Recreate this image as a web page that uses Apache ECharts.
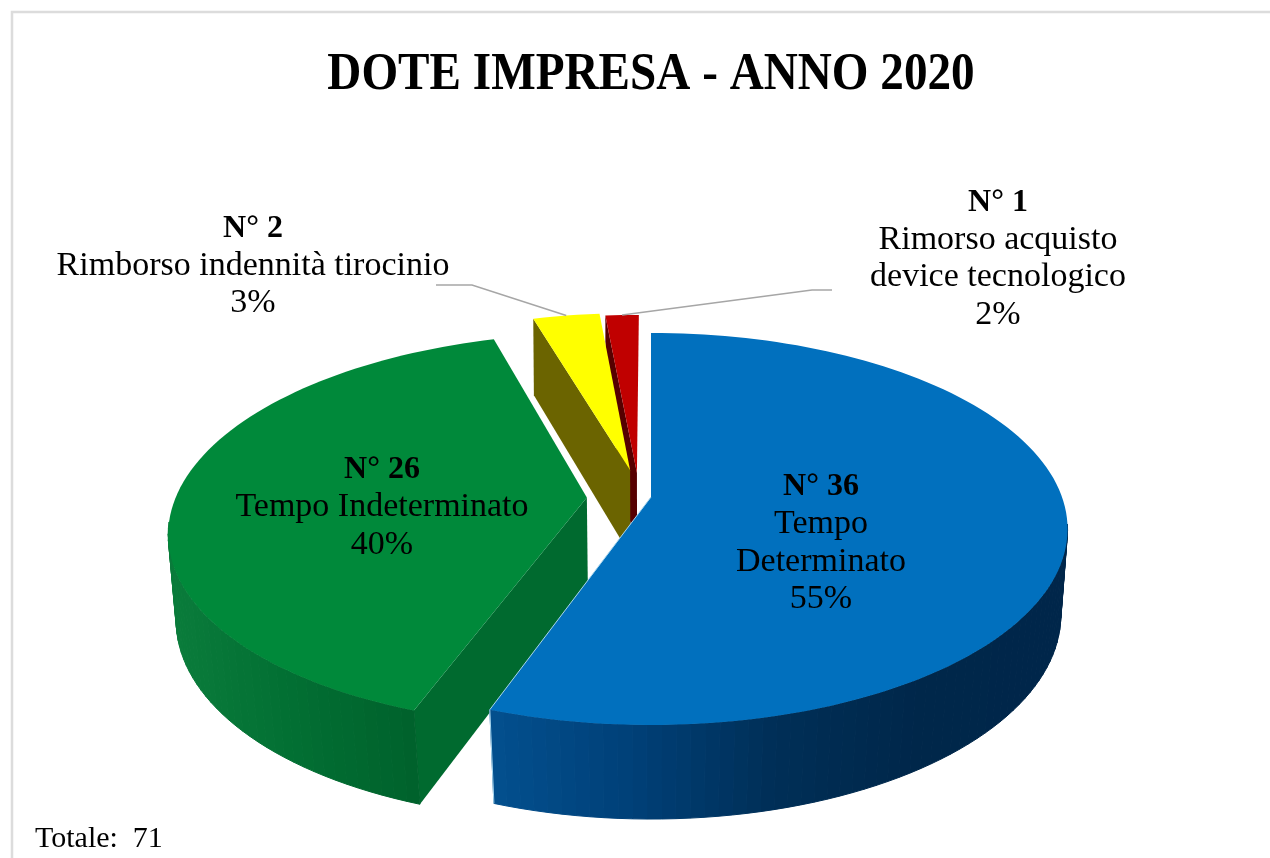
<!DOCTYPE html>
<html>
<head>
<meta charset="utf-8">
<title>Dote Impresa 2020</title>
<style>
  html, body { margin: 0; padding: 0; background: #fff; }
  #chart { width: 1270px; height: 858px; }
</style>
<script src="https://cdn.jsdelivr.net/npm/echarts@6/dist/echarts.min.js"></script>
</head>
<body>
<div id="chart"></div>
<script>
// data
const counts = [36, 26, 2, 1];
const names = ['Tempo\nDeterminato', 'Tempo Indeterminato', 'Rimborso indennità tirocinio', 'Rimorso acquisto\ndevice tecnologico'];
const totaleLabel = 71;

// look of each slice
const topColors = ['#0170be', '#00893a', '#ffff00', '#c00000'];
const cutColors = ['#004c8c', '#006a2f', '#6b6400', '#560000'];
const wallColors = [
  ['#03508f', '#004078', '#002f57', '#00274a', '#00264a'],
  ['#0a7c3b', '#026f33', '#00622c'],
  null,
  null
];
const wallRange = [[493, 1068], [169, 415]];
// explosion of each slice, in units of the disc radius
const explodeU = [0, -0.156, -0.052, -0.035];
const explodeV = [0, 0.003, -0.144, -0.13];
const labelPos = [[821, 543], [382, 507.5], [253, 266], [998, 258.5]];
// elbow of the leader lines, for the two small slices
const leaderElbow = { 2: [[436, 285], [472, 285]], 3: [[832, 290], [812, 290]] };

// the disc seen in perspective: top face and bottom face
const cx = 651;
const topFace = { a: 411, b: 190.8, y: 497, k: 0.163 };
const botFace = { a: 405, b: 199.5, y: 583.5, k: 0.153 };

function project(face, u, v) {
  const s = 1 / (1 - face.k * v);
  return [cx + face.a * u * s, face.y + face.b * v * s];
}

const total = counts.reduce((a, b) => a + b, 0);
const starts = [];
counts.reduce((acc, c, i) => { starts[i] = acc; return acc + c; }, 0);
const angleOf = v => v / total * Math.PI * 2;

function arcPoints(face, i) {
  const from = angleOf(starts[i]), to = angleOf(starts[i] + counts[i]);
  const steps = Math.max(4, Math.round((to - from) / 0.03));
  const pts = [];
  for (let k = 0; k <= steps; k++) {
    const t = from + (to - from) * k / steps;
    pts.push(project(face, Math.sin(t) + explodeU[i], -Math.cos(t) + explodeV[i]));
  }
  return pts;
}

function renderSlice(params, api) {
  const i = api.value(0);
  const z = 10 * (counts.length - i);
  const children = [];
  const apexTop = project(topFace, explodeU[i], explodeV[i]);
  const apexBot = project(botFace, explodeU[i], explodeV[i]);
  const arcTop = arcPoints(topFace, i);
  const arcBot = arcPoints(botFace, i);

  // cut face on the start side
  children.push({
    type: 'polygon', z2: z,
    shape: { points: [apexTop, arcTop[0], arcBot[0], apexBot] },
    style: { fill: cutColors[i] }
  });
  // outer wall as strips, front part only (the back of the disc is hidden anyway)
  if (wallColors[i]) {
    for (let k = 0; k < arcTop.length - 1; k++) {
      if (arcTop[k][1] < topFace.y + 30 && arcTop[k + 1][1] < topFace.y + 30) continue;
      const f = (arcTop[k][0] - wallRange[i][0]) / (wallRange[i][1] - wallRange[i][0]);
      const col = echarts.color.lerp(Math.min(1, Math.max(0, f)), wallColors[i]);
      children.push({
        type: 'polygon', z2: z + 1,
        shape: { points: [arcTop[k], arcTop[k + 1], arcBot[k + 1], arcBot[k]] },
        style: { fill: col, stroke: col, lineWidth: 1 }
      });
    }
  }
  // top face
  children.push({
    type: 'polygon', z2: z + 2,
    shape: { points: [apexTop].concat(arcTop) },
    style: { fill: topColors[i] }
  });
  // thin light edge along the front cut of the big slice
  if (i === 0) {
    children.push({
      type: 'polyline', z2: z + 3,
      shape: { points: [apexTop, arcTop[arcTop.length - 1], arcBot[arcBot.length - 1]] },
      style: { fill: 'none', stroke: '#a9d6ee', lineWidth: 1 }
    });
  }

  // leader line
  if (leaderElbow[i]) {
    const mid = angleOf(starts[i] + counts[i] / 2);
    const end = project(topFace, Math.sin(mid) + explodeU[i], -Math.cos(mid) + explodeV[i]);
    children.push({
      type: 'polyline', z2: 90,
      shape: { points: leaderElbow[i].concat([end]) },
      style: { fill: 'none', stroke: '#a6a6a6', lineWidth: 1.5 }
    });
  }

  // label
  const pct = Math.round(counts[i] / total * 100) + '%';
  children.push({
    type: 'text', z2: 100,
    x: labelPos[i][0], y: labelPos[i][1],
    style: {
      text: '{b|N° ' + counts[i] + '}\n{r|' + names[i].replace('\n', '}\n{r|') + '}\n{r|' + pct + '}',
      align: 'center', verticalAlign: 'middle',
      rich: {
        b: { fontFamily: 'Liberation Serif', fontSize: 32, fontWeight: 'bold', lineHeight: 37.5, fill: '#000', align: 'center' },
        r: { fontFamily: 'Liberation Serif', fontSize: 34, lineHeight: 37.5, fill: '#000', align: 'center' }
      }
    }
  });
  return { type: 'group', children: children };
}

const chart = echarts.init(document.getElementById('chart'), null, { renderer: 'canvas' });
chart.setOption({
  animation: false,
  backgroundColor: '#fff',
  graphic: [
    { type: 'polyline', shape: { points: [[12, 858], [12, 12], [1270, 12]] }, style: { fill: 'none', stroke: '#dcdcdc', lineWidth: 2.5 } },
    {
      type: 'text', x: 651, y: 75, scaleX: 0.89,
      style: {
        text: 'DOTE IMPRESA - ANNO 2020',
        fontFamily: 'Liberation Serif', fontSize: 53, fontWeight: 'bold', fill: '#000',
        align: 'center', verticalAlign: 'middle'
      }
    },
    { type: 'text', x: 35, y: 839, style: { text: 'Totale:  ' + totaleLabel, fontFamily: 'Liberation Serif', fontSize: 30, fill: '#000', verticalAlign: 'middle' } }
  ],
  series: [{
    type: 'custom',
    coordinateSystem: 'none',
    silent: true,
    renderItem: renderSlice,
    data: counts.map((c, i) => [i, c])
  }]
});
</script>
</body>
</html>
